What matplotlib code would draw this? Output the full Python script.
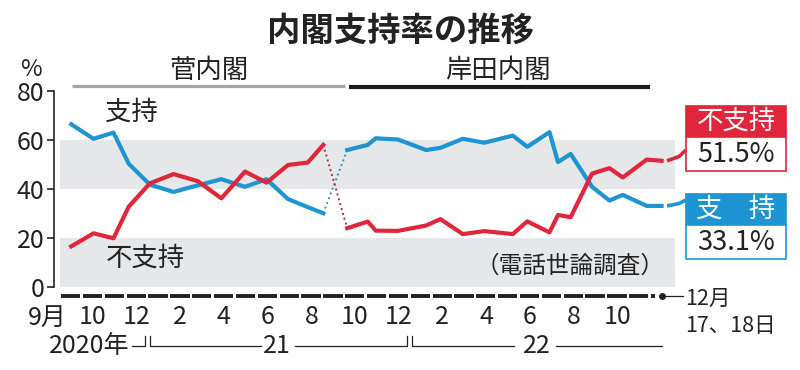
import matplotlib
matplotlib.use("Agg")
import matplotlib.pyplot as plt
import pandas as pd
from matplotlib.patches import Rectangle

plt.rcParams['font.family'] = ['Noto Sans CJK JP', 'DejaVu Sans']

# survey dates and results (%)
suga_dates = ["2020-09-16", "2020-10-17", "2020-11-14", "2020-12-05", "2021-01-04",
              "2021-02-06", "2021-03-10", "2021-04-12", "2021-05-15", "2021-06-14",
              "2021-07-14", "2021-08-11", "2021-09-02"]
suga_support = [66.4, 60.5, 63.0, 50.3, 41.8, 38.8, 41.5, 44.0, 40.9, 44.0, 35.9, 32.6, 30.1]
suga_oppose = [16.6, 21.9, 19.9, 32.8, 42.3, 46.1, 43.2, 36.2, 47.1, 42.6, 49.8, 50.8, 58.0]

kishida_dates = ["2021-10-05", "2021-11-03", "2021-11-14", "2021-12-15", "2022-01-24",
                 "2022-02-12", "2022-03-14", "2022-04-13", "2022-05-23", "2022-06-12",
                 "2022-07-13", "2022-07-25", "2022-08-12", "2022-09-11", "2022-10-05",
                 "2022-10-24", "2022-11-26", "2022-12-17"]
kishida_support = [55.9, 58.0, 60.7, 60.2, 55.9, 56.8, 60.5, 58.9, 61.8, 57.2,
                   63.2, 51.0, 54.3, 40.9, 35.3, 37.6, 33.1, 33.1]
kishida_oppose = [24.0, 26.7, 23.0, 22.9, 25.1, 27.7, 21.6, 22.8, 21.6, 26.8,
                  22.3, 29.4, 28.5, 46.3, 48.5, 44.7, 52.0, 51.5]

month_labels = ["9月", "10", "", "12", "", "2", "", "4", "", "6", "", "8", "", "10", "",
                "12", "", "2", "", "4", "", "6", "", "8", "", "10", ""]

BLUE = "#1e95d2"
RED = "#e0263a"
BAND = "#e6e7e9"
INK = "#222222"


def month_pos(dates):
    d = pd.to_datetime(pd.Series(dates))
    return list((d.dt.year - 2020) * 12 + d.dt.month - 9 + (d.dt.day - 0.5) / d.dt.days_in_month)


xs_suga = month_pos(suga_dates)
xs_kishida = month_pos(kishida_dates)

fig = plt.figure(figsize=(8, 3.7), dpi=100)
ax = fig.add_axes([60 / 800, 83 / 370, 615 / 800, 196 / 370])
ax.set_xlim(0, 615 / 21.85)
ax.set_ylim(0, 80)

ax.axhspan(40, 60, color=BAND, lw=0, zorder=0)
ax.axhspan(0, 20, color=BAND, lw=0, zorder=0)

for s in ["top", "right", "bottom"]:
    ax.spines[s].set_visible(False)
ax.spines["left"].set_position(("outward", 4))
ax.spines["left"].set_linewidth(1.2)
ax.spines["left"].set_color(INK)
ax.set_yticks([0, 20, 40, 60, 80])
ax.tick_params(axis="y", length=5, width=1.2, color=INK, labelsize=18, pad=2, labelcolor=INK)
ax.set_xticks([])

# lines
ax.plot(xs_suga, suga_support, color=BLUE, lw=3, solid_joinstyle="round", zorder=3)
ax.plot(xs_suga, suga_oppose, color=RED, lw=3, solid_joinstyle="round", zorder=4)
ax.plot(xs_kishida, kishida_support, color=BLUE, lw=3, solid_joinstyle="round", zorder=3)
ax.plot(xs_kishida, kishida_oppose, color=RED, lw=3, solid_joinstyle="round", zorder=4)
ax.plot([xs_suga[-1], xs_kishida[0]], [suga_support[-1], kishida_support[0]],
        color="#3f8fbf", lw=1.4, ls=(0, (1, 1.6)), zorder=2)
ax.plot([xs_suga[-1], xs_kishida[0]], [suga_oppose[-1], kishida_oppose[0]],
        color="#a3304f", lw=1.4, ls=(0, (1, 1.6)), zorder=2)

# series labels in the plot
ax.text(3.25, 71.4, "支持", fontsize=19, color=INK, ha="center", va="center")
ax.text(3.9, 11.8, "不支持", fontsize=19, color=INK, ha="center", va="center")
ax.text(23.35, 8.6, "（電話世論調査）", fontsize=17, color=INK, ha="center", va="center")

# cabinet bars
ax.plot([0.55, 13.04], [82.0, 82.0], color="#a5a5a5", lw=2.3, clip_on=False, solid_capstyle="butt")
ax.plot([13.23, 27.0], [81.7, 81.7], color="#1a1a1a", lw=3, clip_on=False, solid_capstyle="butt")
ax.text(6.82, 88.4, "菅内閣", fontsize=19, color=INK, ha="center", va="center")
ax.text(20.05, 88.4, "岸田内閣", fontsize=19, color=INK, ha="center", va="center")
ax.text(-1.33, 88.8, "%", fontsize=17, color=INK, ha="center", va="center")

# month dashes along the bottom
for i in range(len(month_labels)):
    ax.plot([i + 0.05, i + 0.93], [-3.7, -3.7], color=INK, lw=2.8, clip_on=False,
            solid_capstyle="butt")
    if month_labels[i]:
        if i == 0:
            ax.text(0.32, -12.4, month_labels[i], fontsize=18, color=INK, ha="right", va="center")
        else:
            ax.text(i + 0.5, -12.4, month_labels[i], fontsize=18, color=INK, ha="center", va="center")
last_x = xs_kishida[-1]
ax.plot([27.05, 27.22], [-3.7, -3.7], color=INK, lw=2.8, clip_on=False, solid_capstyle="butt")
ax.plot([last_x], [-3.7], marker="o", ms=4, color=INK, clip_on=False)
ax.plot([last_x, last_x + 1.0], [-3.7, -3.7], color=INK, lw=0.9, clip_on=False)
ax.text(last_x + 1.08, -4.9, "12月", fontsize=15.5, color=INK, ha="left", va="center")
ax.text(last_x + 1.08, -15.9, "17、18日", fontsize=15.5, color=INK, ha="left", va="center")

# year row
yl, yt = -24.1, -20.0
ax.text(3.2, yl, "2020年", fontsize=18, color=INK, ha="right", va="center")
ax.plot([3.3, 3.88, 3.88], [yl, yl, yt], color=INK, lw=0.9, clip_on=False)
ax.plot([4.12, 4.12, 9.2], [yt, yl, yl], color=INK, lw=0.9, clip_on=False)
ax.text(9.93, yl, "21", fontsize=18, color=INK, ha="center", va="center")
ax.plot([10.75, 15.88, 15.88], [yl, yl, yt], color=INK, lw=0.9, clip_on=False)
ax.plot([16.12, 16.12, 20.8], [yt, yl, yl], color=INK, lw=0.9, clip_on=False)
ax.text(21.83, yl, "22", fontsize=18, color=INK, ha="center", va="center")
ax.plot([22.7, last_x], [yl, yl], color=INK, lw=0.9, clip_on=False)

# title
fig.text(0.5, 1 - 31 / 370, "内閣支持率の推移", fontsize=24, fontweight="bold",
         color=INK, ha="center", va="center")


# latest value boxes
def px(x, y):
    return x / 800, 1 - y / 370


def value_box(top, color, head, value, y_end, y_join):
    x0, x1 = 686, 786
    hx, hy = px(x0, top + 31)
    w = (x1 - x0) / 800
    fig.add_artist(Rectangle((hx, hy), w, 31 / 370, transform=fig.transFigure,
                             facecolor=color, edgecolor=color, lw=1.2))
    bx, by = px(x0, top + 65)
    fig.add_artist(Rectangle((bx, by), w, 34 / 370, transform=fig.transFigure,
                             facecolor="white", edgecolor=color, lw=1.2))
    fig.text(*px(736, top + 15.5), head, fontsize=19, color="white", ha="center", va="center")
    fig.text(*px(736, top + 48), value, fontsize=19.5, color=INK, ha="center", va="center")
    # connector from the line end to the box
    ya = 287 - y_end * 2.45
    xs = [667 / 800, 679 / 800, 686 / 800]
    ys = [1 - ya / 370, 1 - (ya + (y_join - ya) * 0.4) / 370, 1 - y_join / 370]
    fig.add_artist(plt.Line2D(xs, ys, transform=fig.transFigure, color=color, lw=2.6,
                              solid_capstyle="butt"))


value_box(106, RED, "不支持", "51.5%", kishida_oppose[-1], 150)
value_box(194, BLUE, "支　持", "33.1%", kishida_support[-1], 200)

fig.savefig("out.png", dpi=100)
